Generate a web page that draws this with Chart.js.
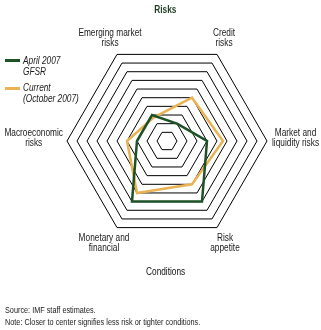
<!DOCTYPE html>
<html>
<head>
<meta charset="utf-8">
<script src="https://cdn.jsdelivr.net/npm/chart.js@4.4.0/dist/chart.umd.min.js"></script>
<style>
  html, body { margin: 0; padding: 0; background: #fff; }
  #wrap {
    position: relative; width: 321px; height: 330px; overflow: hidden;
    font-family: "Liberation Sans", Arial, sans-serif; color: #1a1a1a;
  }
  canvas { position: absolute; left: 0; top: 0; }
  .txt { position: absolute; white-space: nowrap; line-height: 11px; }
  .narrow { display: inline-block; transform: scaleX(0.83); transform-origin: left top; }
  .center { left: 0; width: 331px; text-align: center; }
  .center .narrow { transform-origin: center top; }
  #title { top: 4px; font-size: 10px; font-weight: bold; color: #1f3d24; }
  #bottomTitle { top: 266px; font-size: 10px; color: #111; }
  .legend-line { position: absolute; left: 5px; width: 15px; height: 3px; }
  .legend-text { left: 23px; font-size: 10px; font-style: italic; }
  #source { left: 5px; top: 305px; font-size: 9px; line-height: 11.5px; }
  #source .narrow { transform: scaleX(0.81); }
</style>
</head>
<body>
<div id="wrap">
  <canvas id="radar" width="321" height="330"></canvas>
  <div id="title" class="txt center"><span class="narrow">Risks</span></div>
  <div id="bottomTitle" class="txt center"><span class="narrow">Conditions</span></div>
  <div class="legend-line" style="top:59px; background:#1d5227;"></div>
  <div class="txt legend-text" style="top:55px;"><span class="narrow">April 2007<br>GFSR</span></div>
  <div class="legend-line" style="top:87px; background:#e9b354;"></div>
  <div class="txt legend-text" style="top:82px;"><span class="narrow">Current<br>(October 2007)</span></div>
  <div id="source" class="txt"><span class="narrow">Source: IMF staff estimates.<br>Note: Closer to center signifies less risk or tighter conditions.</span></div>
</div>
<script>
// ---- data ----
const axisLabels = [
  ["Credit", "risks"],
  ["Market and", "liquidity risks"],
  ["Risk", "appetite"],
  ["Monetary and", "financial"],
  ["Macroeconomic", "risks"],
  ["Emerging market", "risks"]
];
const april2007 = [2, 4, 7, 7, 3, 3];
const october2007 = [5, 5.6, 5, 6, 4, 2.7];
const scaleMin = 0;
const scaleMax = 10;
const ringStep = 1;

// axis names next to each hexagon corner (condensed look via horizontal squeeze)
const cornerLabels = {
  id: "cornerLabels",
  afterDraw(chart) {
    const scale = chart.scales.r;
    const ctx = chart.ctx;
    const lineH = 10;
    const squeeze = 0.83;
    ctx.save();
    ctx.font = "10px 'Liberation Sans', Arial, sans-serif";
    ctx.fillStyle = "#1a1a1a";
    ctx.textAlign = "center";
    ctx.textBaseline = "middle";
    chart.data.labels.forEach((lines, i) => {
      const p = scale.getPointPosition(i, scale.drawingArea);
      const w = squeeze * Math.max(...lines.map(l => ctx.measureText(l).width));
      let cx, top;
      if (Math.abs(p.y - scale.yCenter) < 2) {
        // side corners: text block beside the corner
        cx = p.x > scale.xCenter ? p.x + 5 + w / 2 : p.x - 4 - w / 2;
        top = p.y - lineH / 2 - 3;
      } else if (p.y < scale.yCenter) {
        cx = p.x + (p.x > scale.xCenter ? 7 : -7);
        top = p.y - 21;
      } else {
        cx = p.x + (p.x > scale.xCenter ? 8 : -13);
        top = p.y + 11;
      }
      lines.forEach((l, k) => {
        ctx.save();
        ctx.translate(cx, top + k * lineH);
        ctx.scale(squeeze, 1);
        ctx.fillText(l, 0, 0);
        ctx.restore();
      });
    });
    ctx.restore();
  }
};

new Chart(document.getElementById("radar"), {
  type: "radar",
  data: {
    labels: axisLabels,
    datasets: [
      {
        label: "April 2007 GFSR",
        data: april2007,
        borderColor: "#1d5227",
        borderWidth: 2.5,
        fill: false
      },
      {
        label: "Current (October 2007)",
        data: october2007,
        borderColor: "#e9b354",
        borderWidth: 2.5,
        fill: false
      }
    ]
  },
  options: {
    responsive: false,
    animation: false,
    layout: { padding: { left: 67, right: 54, top: 41, bottom: 89 } },
    elements: {
      line: { tension: 0 },
      point: { radius: 0, hoverRadius: 0 }
    },
    plugins: {
      legend: { display: false },
      tooltip: { enabled: false }
    },
    scales: {
      r: {
        min: scaleMin,
        max: scaleMax,
        startAngle: 30,
        ticks: { display: false, stepSize: ringStep },
        grid: { color: "#000", lineWidth: 1 },
        angleLines: { display: false },
        pointLabels: { display: false }
      }
    }
  },
  plugins: [cornerLabels]
});
</script>
</body>
</html>
